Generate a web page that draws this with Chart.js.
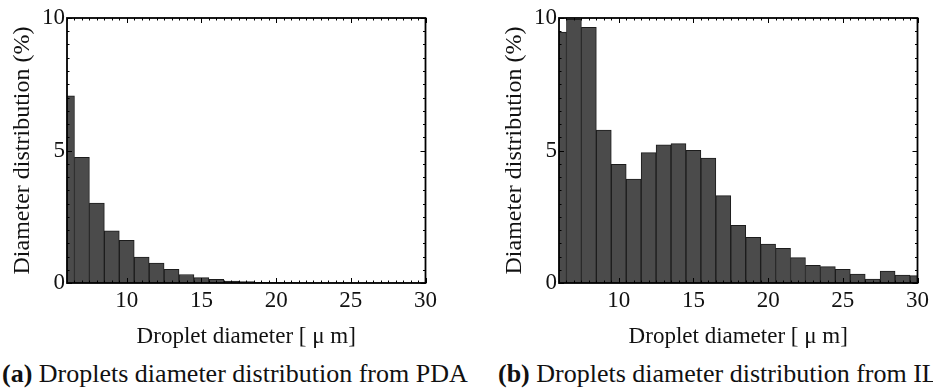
<!DOCTYPE html>
<html>
<head>
<meta charset="utf-8">
<script src="https://cdn.jsdelivr.net/npm/chart.js@4/dist/chart.umd.min.js"></script>
<style>
  html, body { margin: 0; padding: 0; background: #fff; width: 933px; height: 391px; overflow: hidden; position: relative; }
  .panel { position: absolute; top: 0; width: 441px; height: 352px; }
  #panelA { left: 0; }
  #panelB { left: 492px; }
  .caption { position: absolute; top: 359px; line-height: 30px; font-family: "Liberation Serif", "DejaVu Serif", serif; font-size: 26px; white-space: nowrap; color: #111; }
  #capA { left: 2px; }
  #capB { left: 498px; }
</style>
</head>
<body>
<div class="panel" id="panelA"><canvas id="chartA" width="441" height="352"></canvas></div>
<div class="panel" id="panelB"><canvas id="chartB" width="441" height="352"></canvas></div>
<div class="caption" id="capA"><b>(a)</b> Droplets diameter distribution from PDA</div>
<div class="caption" id="capB"><b>(b)</b> Droplets diameter distribution from ILIDS</div>

<script>
/* ================= DATA ================= */
const diameters = [6, 7, 8, 9, 10, 11, 12, 13, 14, 15, 16, 17, 18,
                   19, 20, 21, 22, 23, 24, 25, 26, 27, 28, 29, 30];

// panel (a) - PDA
const pdaValues = [7.06, 4.74, 3.02, 1.97, 1.61, 0.98, 0.75, 0.52, 0.32, 0.2, 0.14, 0.07, 0.05,
                   0.03, 0.02, 0.02, 0.01, 0.01, 0.01, 0.01, 0.01, 0.01, 0.01, 0.01, 0.01];

// panel (b)
const imgValues = [9.47, 9.95, 9.65, 5.77, 4.48, 3.92, 4.92, 5.21, 5.26, 5.01, 4.71, 3.3, 2.18,
                   1.72, 1.47, 1.31, 0.96, 0.67, 0.62, 0.52, 0.34, 0.15, 0.45, 0.3, 0.28];

const xTicks = [10, 15, 20, 25, 30];
const yTicks = [0, 5, 10];
const xRange = [6, 30];
const yRange = [0, 10];

const xTitle = "Droplet diameter [ \u03bc m]";
const yTitle = "Diameter distribution (%)";

/* ================= STYLE ================= */
Chart.defaults.font.family = '"Liberation Serif", "DejaVu Serif", serif';
Chart.defaults.color = "#111";

const PLOT_LEFT = 67;
const PLOT_TOP = 18;
const PLOT_BOTTOM = 283;

/* ================= FRAME + INWARD TICKS ================= */
const frameTicks = {
    id: "frameTicks",
    afterDatasetsDraw(chart) {
        const { ctx, chartArea: a, scales: { x, y } } = chart;
        ctx.save();
        ctx.strokeStyle = "#000";
        ctx.lineWidth = 1;
        const seg = (x1, y1, x2, y2) => {
            ctx.beginPath();
            ctx.moveTo(x1, y1);
            ctx.lineTo(x2, y2);
            ctx.stroke();
        };

        for (let v = x.min; v <= x.max + 1e-9; v += 0.5) {
            const px = Math.round(x.getPixelForValue(v)) + 0.5;
            const len = xTicks.includes(v) ? 5 : 2.5;
            seg(px, a.bottom, px, a.bottom - len);
            seg(px, a.top, px, a.top + len);
        }
        for (let v = y.min; v <= y.max + 1e-9; v += 0.5) {
            const py = Math.round(y.getPixelForValue(v)) + 0.5;
            const len = yTicks.includes(v) ? 5 : 2.5;
            seg(a.left, py, a.left + len, py);
            seg(a.right, py, a.right - len, py);
        }

        ctx.lineWidth = 1.8;
        ctx.strokeRect(a.left, a.top, a.right - a.left, a.bottom - a.top);
        ctx.restore();
    }
};

/* ================= BUILD ================= */
const makeChart = (canvasId, values) => {
    const canvas = document.getElementById(canvasId);
    return new Chart(canvas, {
        type: "bar",
        data: {
            datasets: [{
                data: diameters.map((d, i) => ({ x: d, y: values[i] })),
                backgroundColor: "#4b4b4b",
                borderColor: "#1c1c1c",
                borderWidth: 1,
                barPercentage: 1,
                categoryPercentage: 1,
                clip: 0
            }]
        },
        options: {
            responsive: false,
            animation: false,
            devicePixelRatio: 1,
            layout: { padding: { top: PLOT_TOP, right: 12, left: 0, bottom: 0 } },
            plugins: { legend: { display: false }, tooltip: { enabled: false } },
            scales: {
                x: {
                    type: "linear",
                    min: xRange[0],
                    max: xRange[1],
                    offset: false,
                    grid: { display: false, drawTicks: false },
                    border: { display: false },
                    afterBuildTicks: s => { s.ticks = xTicks.map(v => ({ value: v })); },
                    afterFit: s => { s.height = canvas.height - PLOT_BOTTOM; },
                    ticks: { padding: 4, font: { size: 23 }, color: "#111", maxRotation: 0 },
                    title: { display: true, text: xTitle, font: { size: 23 }, color: "#111", padding: { top: 0, bottom: 1 } }
                },
                y: {
                    min: yRange[0],
                    max: yRange[1],
                    grid: { display: false, drawTicks: false },
                    border: { display: false },
                    afterBuildTicks: s => { s.ticks = yTicks.map(v => ({ value: v })); },
                    afterFit: s => { s.width = PLOT_LEFT; },
                    ticks: { padding: 2, font: { size: 23 }, color: "#111" },
                    title: { display: true, text: yTitle, font: { size: 24 }, color: "#111", padding: { top: 8, bottom: 0 } }
                }
            }
        },
        plugins: [frameTicks]
    });
};

makeChart("chartA", pdaValues);
makeChart("chartB", imgValues);
</script>
</body>
</html>
